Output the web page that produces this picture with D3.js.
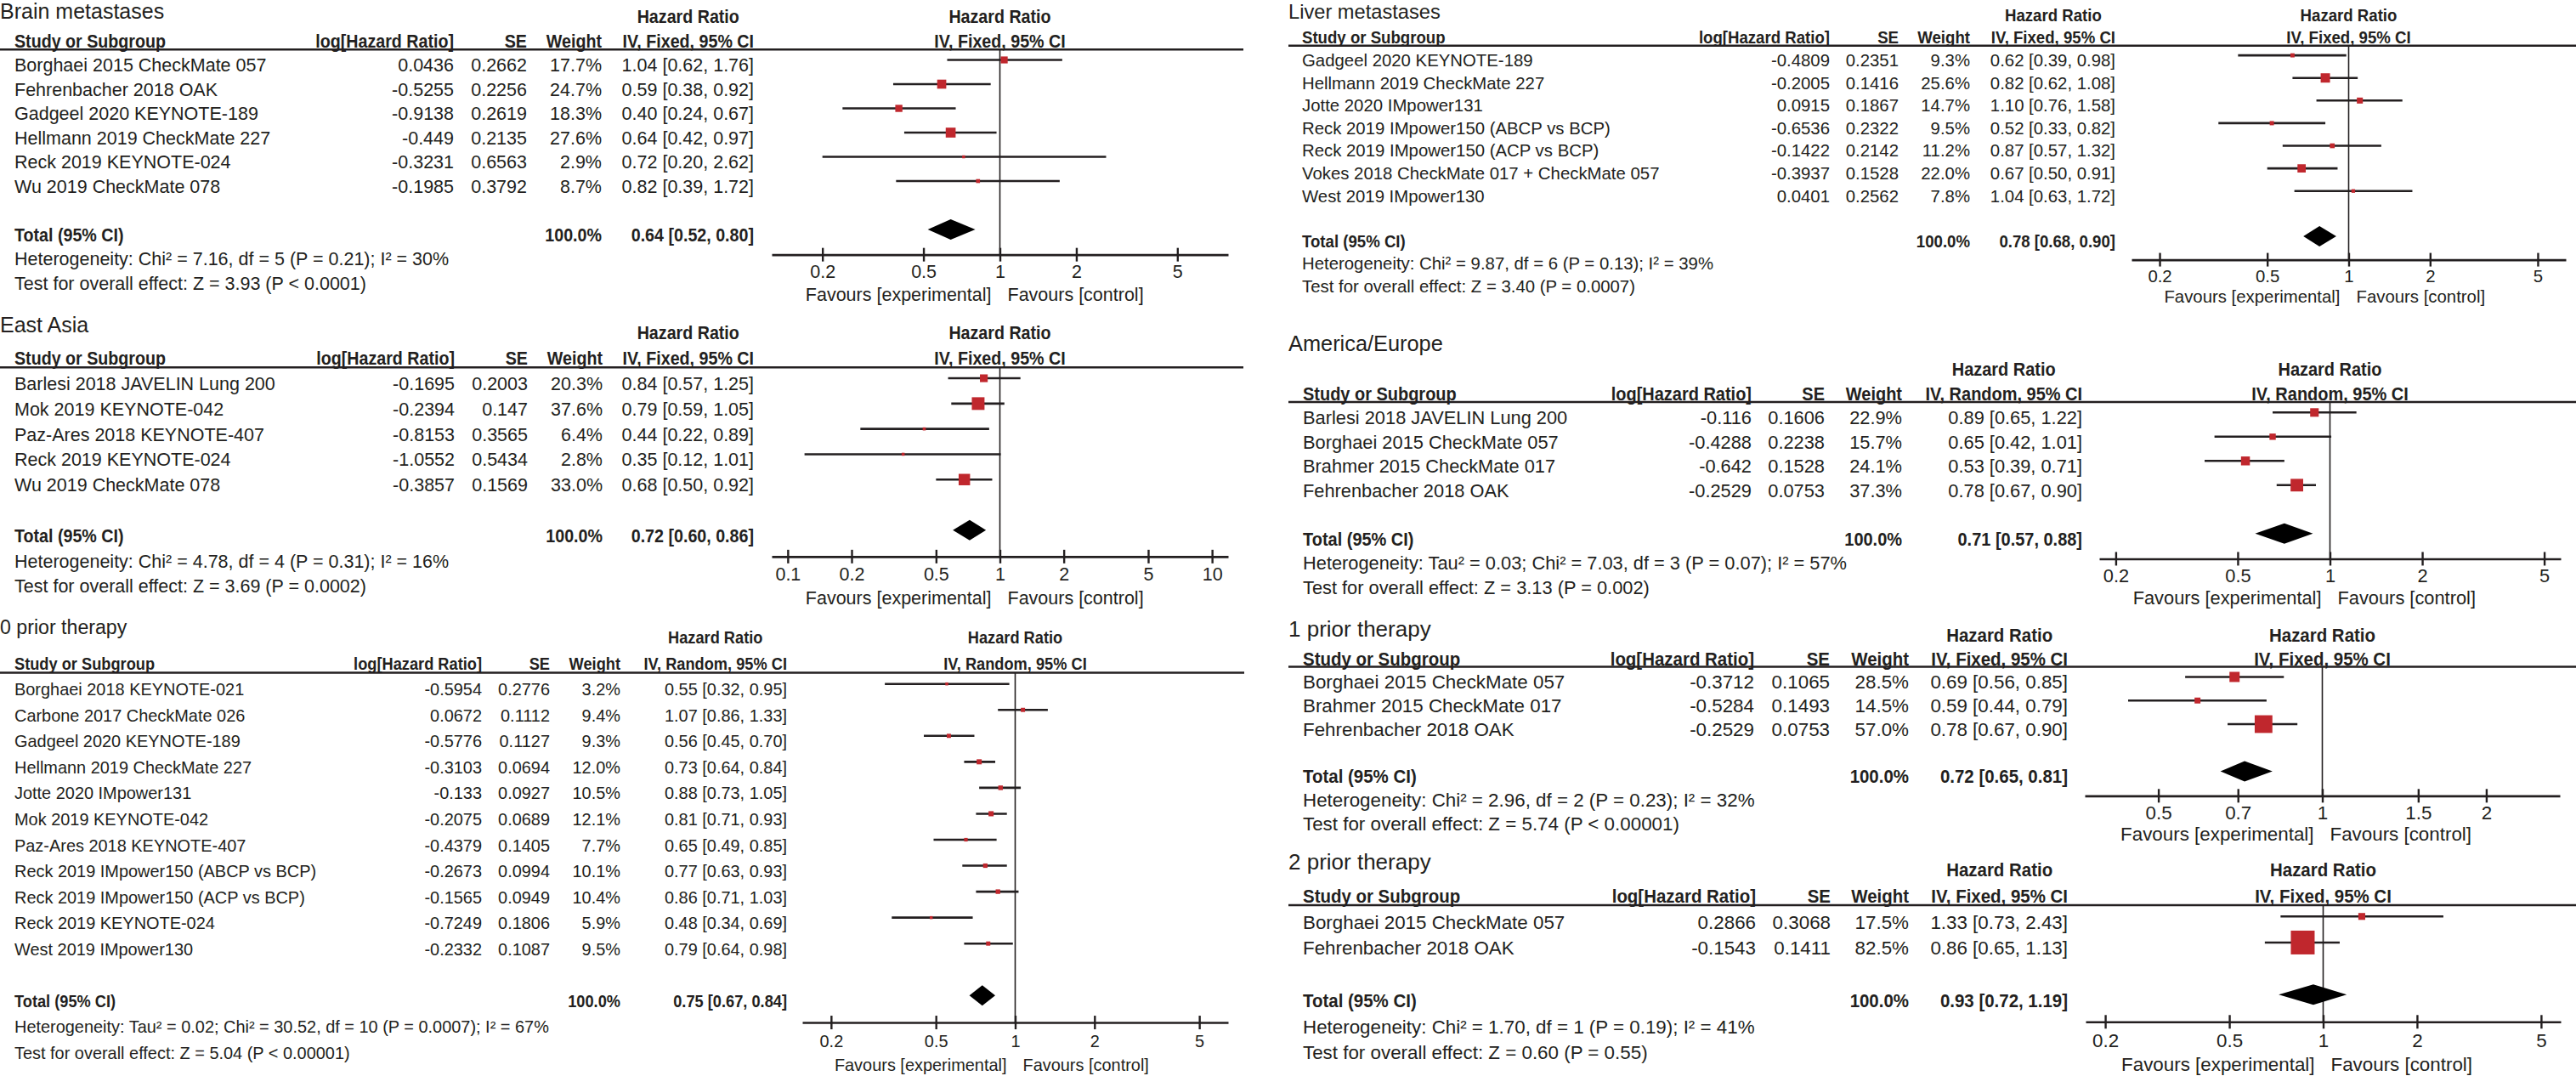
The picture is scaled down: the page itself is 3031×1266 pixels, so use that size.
<!DOCTYPE html>
<html>
<head>
<meta charset="utf-8">
<script src="https://cdn.jsdelivr.net/npm/d3@7"></script>
<style>
  html, body { margin: 0; padding: 0; background: #fff; }
  svg { display: block; }
  text { font-family: "Liberation Sans", Arial, sans-serif; fill: #231f20; }
</style>
</head>
<body>
<svg id="chart" width="3031" height="1266"></svg>
<script>
// ---------------- DATA ----------------
// Brain metastases
const brainStudies = ["Borghaei 2015 CheckMate 057", "Fehrenbacher 2018 OAK", "Gadgeel 2020 KEYNOTE-189", "Hellmann 2019 CheckMate 227", "Reck 2019 KEYNOTE-024", "Wu 2019 CheckMate 078"];
const brainLogHR = [0.0436, -0.5255, -0.9138, -0.449, -0.3231, -0.1985];
const brainSE = [0.2662, 0.2256, 0.2619, 0.2135, 0.6563, 0.3792];
const brainWeight = [17.7, 24.7, 18.3, 27.6, 2.9, 8.7];
const brainHR = [1.04, 0.59, 0.40, 0.64, 0.72, 0.82];
const brainLo = [0.62, 0.38, 0.24, 0.42, 0.20, 0.39];
const brainHi = [1.76, 0.92, 0.67, 0.97, 2.62, 1.72];
const brainTotal = [0.64, 0.52, 0.80];
const brainHet = "Heterogeneity: Chi\u00b2 = 7.16, df = 5 (P = 0.21); I\u00b2 = 30%";
const brainTest = "Test for overall effect: Z = 3.93 (P < 0.0001)";
const brainTicks = [0.2, 0.5, 1, 2, 5];

// East Asia
const eastStudies = ["Barlesi 2018 JAVELIN Lung 200", "Mok 2019 KEYNOTE-042", "Paz-Ares 2018 KEYNOTE-407", "Reck 2019 KEYNOTE-024", "Wu 2019 CheckMate 078"];
const eastLogHR = [-0.1695, -0.2394, -0.8153, -1.0552, -0.3857];
const eastSE = [0.2003, 0.147, 0.3565, 0.5434, 0.1569];
const eastWeight = [20.3, 37.6, 6.4, 2.8, 33.0];
const eastHR = [0.84, 0.79, 0.44, 0.35, 0.68];
const eastLo = [0.57, 0.59, 0.22, 0.12, 0.50];
const eastHi = [1.25, 1.05, 0.89, 1.01, 0.92];
const eastTotal = [0.72, 0.60, 0.86];
const eastHet = "Heterogeneity: Chi\u00b2 = 4.78, df = 4 (P = 0.31); I\u00b2 = 16%";
const eastTest = "Test for overall effect: Z = 3.69 (P = 0.0002)";
const eastTicks = [0.1, 0.2, 0.5, 1, 2, 5, 10];

// 0 prior therapy
const p0Studies = ["Borghaei 2018 KEYNOTE-021", "Carbone 2017 CheckMate 026", "Gadgeel 2020 KEYNOTE-189", "Hellmann 2019 CheckMate 227", "Jotte 2020 IMpower131", "Mok 2019 KEYNOTE-042", "Paz-Ares 2018 KEYNOTE-407", "Reck 2019 IMpower150 (ABCP vs BCP)", "Reck 2019 IMpower150 (ACP vs BCP)", "Reck 2019 KEYNOTE-024", "West 2019 IMpower130"];
const p0LogHR = [-0.5954, 0.0672, -0.5776, -0.3103, -0.133, -0.2075, -0.4379, -0.2673, -0.1565, -0.7249, -0.2332];
const p0SE = [0.2776, 0.1112, 0.1127, 0.0694, 0.0927, 0.0689, 0.1405, 0.0994, 0.0949, 0.1806, 0.1087];
const p0Weight = [3.2, 9.4, 9.3, 12.0, 10.5, 12.1, 7.7, 10.1, 10.4, 5.9, 9.5];
const p0HR = [0.55, 1.07, 0.56, 0.73, 0.88, 0.81, 0.65, 0.77, 0.86, 0.48, 0.79];
const p0Lo = [0.32, 0.86, 0.45, 0.64, 0.73, 0.71, 0.49, 0.63, 0.71, 0.34, 0.64];
const p0Hi = [0.95, 1.33, 0.70, 0.84, 1.05, 0.93, 0.85, 0.93, 1.03, 0.69, 0.98];
const p0Total = [0.75, 0.67, 0.84];
const p0Het = "Heterogeneity: Tau\u00b2 = 0.02; Chi\u00b2 = 30.52, df = 10 (P = 0.0007); I\u00b2 = 67%";
const p0Test = "Test for overall effect: Z = 5.04 (P < 0.00001)";
const p0Ticks = [0.2, 0.5, 1, 2, 5];

// Liver metastases
const liverStudies = ["Gadgeel 2020 KEYNOTE-189", "Hellmann 2019 CheckMate 227", "Jotte 2020 IMpower131", "Reck 2019 IMpower150 (ABCP vs BCP)", "Reck 2019 IMpower150 (ACP vs BCP)", "Vokes 2018 CheckMate 017 + CheckMate 057", "West 2019 IMpower130"];
const liverLogHR = [-0.4809, -0.2005, 0.0915, -0.6536, -0.1422, -0.3937, 0.0401];
const liverSE = [0.2351, 0.1416, 0.1867, 0.2322, 0.2142, 0.1528, 0.2562];
const liverWeight = [9.3, 25.6, 14.7, 9.5, 11.2, 22.0, 7.8];
const liverHR = [0.62, 0.82, 1.10, 0.52, 0.87, 0.67, 1.04];
const liverLo = [0.39, 0.62, 0.76, 0.33, 0.57, 0.50, 0.63];
const liverHi = [0.98, 1.08, 1.58, 0.82, 1.32, 0.91, 1.72];
const liverTotal = [0.78, 0.68, 0.90];
const liverHet = "Heterogeneity: Chi\u00b2 = 9.87, df = 6 (P = 0.13); I\u00b2 = 39%";
const liverTest = "Test for overall effect: Z = 3.40 (P = 0.0007)";
const liverTicks = [0.2, 0.5, 1, 2, 5];

// America/Europe
const amStudies = ["Barlesi 2018 JAVELIN Lung 200", "Borghaei 2015 CheckMate 057", "Brahmer 2015 CheckMate 017", "Fehrenbacher 2018 OAK"];
const amLogHR = [-0.116, -0.4288, -0.642, -0.2529];
const amSE = [0.1606, 0.2238, 0.1528, 0.0753];
const amWeight = [22.9, 15.7, 24.1, 37.3];
const amHR = [0.89, 0.65, 0.53, 0.78];
const amLo = [0.65, 0.42, 0.39, 0.67];
const amHi = [1.22, 1.01, 0.71, 0.90];
const amTotal = [0.71, 0.57, 0.88];
const amHet = "Heterogeneity: Tau\u00b2 = 0.03; Chi\u00b2 = 7.03, df = 3 (P = 0.07); I\u00b2 = 57%";
const amTest = "Test for overall effect: Z = 3.13 (P = 0.002)";
const amTicks = [0.2, 0.5, 1, 2, 5];

// 1 prior therapy
const p1Studies = ["Borghaei 2015 CheckMate 057", "Brahmer 2015 CheckMate 017", "Fehrenbacher 2018 OAK"];
const p1LogHR = [-0.3712, -0.5284, -0.2529];
const p1SE = [0.1065, 0.1493, 0.0753];
const p1Weight = [28.5, 14.5, 57.0];
const p1HR = [0.69, 0.59, 0.78];
const p1Lo = [0.56, 0.44, 0.67];
const p1Hi = [0.85, 0.79, 0.90];
const p1Total = [0.72, 0.65, 0.81];
const p1Het = "Heterogeneity: Chi\u00b2 = 2.96, df = 2 (P = 0.23); I\u00b2 = 32%";
const p1Test = "Test for overall effect: Z = 5.74 (P < 0.00001)";
const p1Ticks = [0.5, 0.7, 1, 1.5, 2];

// 2 prior therapy
const p2Studies = ["Borghaei 2015 CheckMate 057", "Fehrenbacher 2018 OAK"];
const p2LogHR = [0.2866, -0.1543];
const p2SE = [0.3068, 0.1411];
const p2Weight = [17.5, 82.5];
const p2HR = [1.33, 0.86];
const p2Lo = [0.73, 0.65];
const p2Hi = [2.43, 1.13];
const p2Total = [0.93, 0.72, 1.19];
const p2Het = "Heterogeneity: Chi\u00b2 = 1.70, df = 1 (P = 0.19); I\u00b2 = 41%";
const p2Test = "Test for overall effect: Z = 0.60 (P = 0.55)";
const p2Ticks = [0.2, 0.5, 1, 2, 5];

const panelTitles = ["Brain metastases", "East Asia", "0 prior therapy", "Liver metastases", "America/Europe", "1 prior therapy", "2 prior therapy"];
const panelMethods = ["IV, Fixed, 95% CI", "IV, Fixed, 95% CI", "IV, Random, 95% CI", "IV, Fixed, 95% CI", "IV, Random, 95% CI", "IV, Fixed, 95% CI", "IV, Fixed, 95% CI"];

// ---------------- LAYOUT (not data) ----------------
const panels = [
  { title: panelTitles[0], method: panelMethods[0], studies: brainStudies, logHR: brainLogHR, se: brainSE, w: brainWeight, hr: brainHR, lo: brainLo, hi: brainHi, total: brainTotal, het: brainHet, test: brainTest, ticks: brainTicks,
    f: 1.0, titleX: 0, titleY: 13, hrY: 19.5, s: 28.5, cols: [17, 534, 620, 708, 887], line: [0, 1463], axis: [908, 1445], m: 7.92 },
  { title: panelTitles[1], method: panelMethods[1], studies: eastStudies, logHR: eastLogHR, se: eastSE, w: eastWeight, hr: eastHR, lo: eastLo, hi: eastHi, total: eastTotal, het: eastHet, test: eastTest, ticks: eastTicks,
    f: 1.0, titleX: 0, titleY: 381.7, hrY: 391.7, s: 29.8, cols: [17, 535, 621, 709, 887], line: [0, 1463], axis: [908, 1445], m: 11.9 },
  { title: panelTitles[2], method: panelMethods[2], studies: p0Studies, logHR: p0LogHR, se: p0SE, w: p0Weight, hr: p0HR, lo: p0Lo, hi: p0Hi, total: p0Total, het: p0Het, test: p0Test, ticks: p0Ticks,
    f: 0.927, titleX: 0, titleY: 738, hrY: 750, s: 30.55, cols: [17, 567, 647, 730, 926], line: [0, 1464], axis: [944, 1445], m: 6.43 },
  { title: panelTitles[3], method: panelMethods[3], studies: liverStudies, logHR: liverLogHR, se: liverSE, w: liverWeight, hr: liverHR, lo: liverLo, hi: liverHi, total: liverTotal, het: liverHet, test: liverTest, ticks: liverTicks,
    f: 0.947, titleX: 1516, titleY: 13, hrY: 17.5, s: 26.6, cols: [1532, 2153, 2234, 2318, 2489], line: [1516, 3031], axis: [2508, 3019], m: 6.35 },
  { title: panelTitles[4], method: panelMethods[4], studies: amStudies, logHR: amLogHR, se: amSE, w: amWeight, hr: amHR, lo: amLo, hi: amHi, total: amTotal, het: amHet, test: amTest, ticks: amTicks,
    f: 1.015, titleX: 1516, titleY: 404, hrY: 434.3, s: 28.5, cols: [1533, 2061, 2147, 2238, 2450], line: [1516, 3031], axis: [2470, 3013], m: 5.66 },
  { title: panelTitles[5], method: panelMethods[5], studies: p1Studies, logHR: p1LogHR, se: p1SE, w: p1Weight, hr: p1HR, lo: p1Lo, hi: p1Hi, total: p1Total, het: p1Het, test: p1Test, ticks: p1Ticks,
    f: 1.04, titleX: 1516, titleY: 739.6, hrY: 746.8, s: 27.75, cols: [1533, 2064, 2153, 2246, 2433], line: [1516, 3031], axis: [2453, 3012], m: 2.73 },
  { title: panelTitles[6], method: panelMethods[6], studies: p2Studies, logHR: p2LogHR, se: p2SE, w: p2Weight, hr: p2HR, lo: p2Lo, hi: p2Hi, total: p2Total, het: p2Het, test: p2Test, ticks: p2Ticks,
    f: 1.04, titleX: 1516, titleY: 1013.3, hrY: 1023.3, s: 30.7, cols: [1533, 2066, 2154, 2246, 2433], line: [1516, 3031], axis: [2454, 3013], m: 5.78 }
];

const BASE_FS = 21.5;     // body font size at scale 1
const BASE_BOLD = 21.5;   // header font size at scale 1 (horizontally condensed)
const BOLD_SX = 0.915;    // horizontal condensing of bold header text
const BASE_TITLE = 25;
const INK = "#231f20";
const RED = "#c0272d";

const svg = d3.select("#chart");
svg.append("rect").attr("width", 3031).attr("height", 1266).attr("fill", "#fff");

function txt(g, x, yCenter, str, opts) {
  const fs = opts.fs;
  const sx = opts.sx || 1;
  const t = g.append("text")
    .attr("x", x / sx)
    .attr("y", yCenter + 0.36 * fs)
    .attr("font-size", fs)
    .attr("font-weight", opts.bold ? "bold" : "normal")
    .attr("text-anchor", opts.anchor || "start")
    .text(str);
  if (sx !== 1) t.attr("transform", `scale(${sx},1)`);
  return t;
}

const fmt2 = d3.format(".2f");
const boxSide = w => Math.max(3.5, 0.82 * Math.pow(w, 0.8));

panels.forEach(p => {
  const g = svg.append("g");
  const s = p.s;
  const FS = BASE_FS * p.f, BFS = BASE_BOLD * p.f, TFS = BASE_TITLE * p.f;
  const R = { fs: FS }, B = { fs: BFS, bold: true, sx: BOLD_SX };
  const [cStudy, cLog, cSE, cW, cCI] = p.cols;
  const x = d3.scaleLog().domain([1 / p.m, p.m]).range(p.axis);
  const x1 = x(1);

  const headY = p.hrY + s;
  const rowY = i => p.hrY + (2 + i) * s;
  const totalY = rowY(p.studies.length + 1);
  const lineY = headY + 0.36 * s;
  const axisY = totalY + 0.83 * s;
  const mOff = 0.21 * s;

  // title
  txt(g, p.titleX, p.titleY, p.title, { fs: TFS });

  // table headers
  const ivText = txt(g, cCI, headY, p.method, { ...B, anchor: "end" });
  const ivW = ivText.node().getComputedTextLength() * BOLD_SX;
  txt(g, cCI - ivW / 2, p.hrY, "Hazard Ratio", { ...B, anchor: "middle" });
  txt(g, cStudy, headY, "Study or Subgroup", B);
  txt(g, cLog, headY, "log[Hazard Ratio]", { ...B, anchor: "end" });
  txt(g, cSE, headY, "SE", { ...B, anchor: "end" });
  txt(g, cW, headY, "Weight", { ...B, anchor: "end" });
  // plot headers
  txt(g, x1, p.hrY, "Hazard Ratio", { ...B, anchor: "middle" });
  txt(g, x1, headY, p.method, { ...B, anchor: "middle" });

  // header rule
  g.append("line").attr("x1", p.line[0]).attr("x2", p.line[1])
    .attr("y1", lineY).attr("y2", lineY)
    .attr("stroke", INK).attr("stroke-width", 2.5);

  // null line
  g.append("line").attr("x1", x1).attr("x2", x1)
    .attr("y1", lineY).attr("y2", axisY)
    .attr("stroke", INK).attr("stroke-width", 1.6);

  // study rows
  p.studies.forEach((name, i) => {
    const y = rowY(i);
    txt(g, cStudy, y, name, R);
    txt(g, cLog, y, String(p.logHR[i]), { ...R, anchor: "end" });
    txt(g, cSE, y, String(p.se[i]), { ...R, anchor: "end" });
    txt(g, cW, y, p.w[i].toFixed(1) + "%", { ...R, anchor: "end" });
    txt(g, cCI, y, fmt2(p.hr[i]) + " [" + fmt2(p.lo[i]) + ", " + fmt2(p.hi[i]) + "]", { ...R, anchor: "end" });

    const my = y - mOff;
    g.append("line")
      .attr("x1", x(p.lo[i])).attr("x2", x(p.hi[i]))
      .attr("y1", my).attr("y2", my)
      .attr("stroke", INK).attr("stroke-width", 2.6);
    const b = boxSide(p.w[i]);
    g.append("rect")
      .attr("x", x(p.hr[i]) - b / 2).attr("y", my - b / 2)
      .attr("width", b).attr("height", b)
      .attr("fill", RED);
  });

  // total row
  txt(g, cStudy, totalY, "Total (95% CI)", B);
  txt(g, cW, totalY, "100.0%", { ...B, anchor: "end" });
  txt(g, cCI, totalY, fmt2(p.total[0]) + " [" + fmt2(p.total[1]) + ", " + fmt2(p.total[2]) + "]", { ...B, anchor: "end" });
  const dy = totalY - mOff;
  const dh = 12;
  g.append("path")
    .attr("d", `M${x(p.total[1])},${dy} L${x(p.total[0])},${dy - dh} L${x(p.total[2])},${dy} L${x(p.total[0])},${dy + dh} Z`)
    .attr("fill", "#000");

  // heterogeneity / test
  txt(g, cStudy, totalY + s, p.het, R);
  txt(g, cStudy, totalY + 2 * s, p.test, R);

  // axis
  const ax = d3.axisBottom(x).tickValues(p.ticks).tickFormat(d => String(d)).tickSize(8).tickSizeOuter(0);
  const axG = g.append("g").attr("transform", `translate(0,${axisY})`).call(ax);
  axG.select(".domain").attr("stroke", INK).attr("stroke-width", 2.6);
  axG.selectAll(".tick line").attr("y1", -8).attr("y2", 8).attr("stroke", INK).attr("stroke-width", 2.4);
  axG.selectAll(".tick text")
    .attr("y", 0.7 * s).attr("dy", 0.36 * FS)
    .attr("font-size", FS)
    .attr("font-family", '"Liberation Sans", Arial, sans-serif')
    .attr("fill", INK);

  // favours labels
  const favY = totalY + 2.45 * s;
  txt(g, x1 - 10, favY, "Favours [experimental]", { ...R, anchor: "end" });
  txt(g, x1 + 9, favY, "Favours [control]", { ...R, anchor: "start" });
});
</script>
</body>
</html>
